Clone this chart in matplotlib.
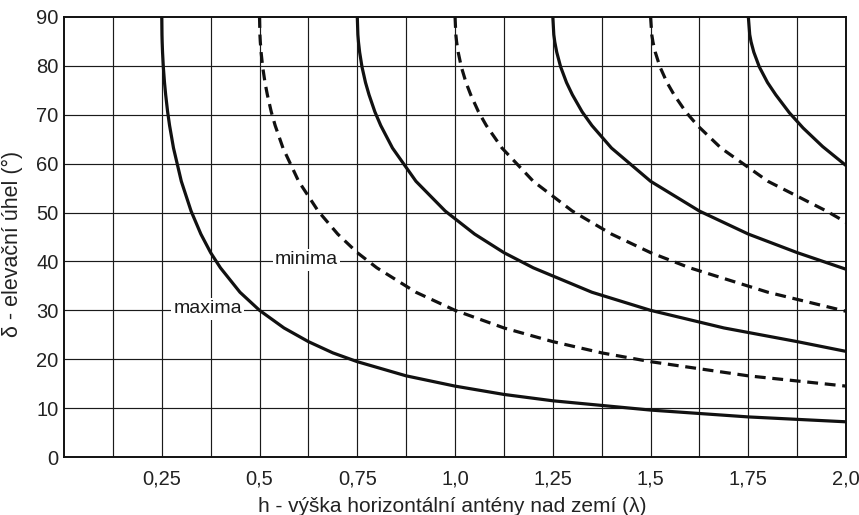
import matplotlib
matplotlib.use("Agg")
import matplotlib.pyplot as plt
import numpy as np

plt.rcParams['font.family'] = ['Liberation Sans', 'DejaVu Sans']

# Curves: h (wavelengths) vs elevation angle (deg)
max1_h = [0.25, 0.2505, 0.251, 0.252, 0.254, 0.257, 0.26, 0.265, 0.27, 0.28, 0.30, 0.325, 0.35, 0.375, 0.40, 0.45, 0.50,
          0.5625, 0.625, 0.6875, 0.75, 0.875, 1.0, 1.125, 1.25, 1.5, 1.75, 2.0]
max1_d = [90, 86.4, 84.9, 82.8, 79.8, 76.6, 74.1, 70.6, 67.8, 63.2, 56.4, 50.3, 45.6, 41.8, 38.7, 33.7, 30.0,
          26.4, 23.6, 21.3, 19.5, 16.6, 14.5, 12.8, 11.5, 9.6, 8.2, 7.2]

min1_h = [0.5, 0.501, 0.502, 0.504, 0.508, 0.514, 0.52, 0.53, 0.54, 0.56, 0.60, 0.65, 0.70, 0.75, 0.80, 0.90, 1.0,
          1.125, 1.25, 1.375, 1.5, 1.75, 2.0]
min1_d = [90, 86.4, 84.9, 82.8, 79.8, 76.6, 74.1, 70.6, 67.8, 63.2, 56.4, 50.3, 45.6, 41.8, 38.7, 33.7, 30.0,
          26.4, 23.6, 21.3, 19.5, 16.6, 14.5]

max2_h = [0.75, 0.7515, 0.753, 0.756, 0.762, 0.771, 0.78, 0.795, 0.81, 0.84, 0.90, 0.975, 1.05, 1.125, 1.2, 1.35, 1.5,
          1.6875, 1.875, 2.0]
max2_d = [90, 86.4, 84.9, 82.8, 79.8, 76.6, 74.1, 70.6, 67.8, 63.2, 56.4, 50.3, 45.6, 41.8, 38.7, 33.7, 30.0,
          26.4, 23.6, 21.6]

min2_h = [1.0, 1.002, 1.004, 1.008, 1.016, 1.028, 1.04, 1.06, 1.08, 1.12, 1.2, 1.3, 1.4, 1.5, 1.6, 1.8, 2.0]
min2_d = [90, 86.4, 84.9, 82.8, 79.8, 76.6, 74.1, 70.6, 67.8, 63.2, 56.4, 50.3, 45.6, 41.8, 38.7, 33.7, 29.8]

max3_h = [1.25, 1.2525, 1.255, 1.26, 1.27, 1.285, 1.30, 1.325, 1.35, 1.40, 1.50, 1.625, 1.75, 1.875, 2.0]
max3_d = [90, 86.4, 84.9, 82.8, 79.8, 76.6, 74.1, 70.6, 67.8, 63.2, 56.4, 50.3, 45.6, 41.8, 38.4]

min3_h = [1.5, 1.503, 1.506, 1.512, 1.524, 1.542, 1.56, 1.59, 1.62, 1.68, 1.80, 1.95, 2.0]
min3_d = [90, 86.4, 84.9, 82.8, 79.8, 76.6, 74.1, 70.6, 67.8, 63.2, 56.4, 50.3, 48.0]

max4_h = [1.75, 1.7535, 1.757, 1.764, 1.778, 1.799, 1.82, 1.855, 1.89, 1.94, 2.0]
max4_d = [90, 86.4, 84.9, 82.8, 79.8, 76.6, 74.1, 70.4, 67.3, 63.5, 59.6]

x_ticks = [0.25, 0.5, 0.75, 1.0, 1.25, 1.5, 1.75, 2.0]
x_tick_labels = ["0,25", "0,5", "0,75", "1,0", "1,25", "1,5", "1,75", "2,0"]
y_ticks = [0, 10, 20, 30, 40, 50, 60, 70, 80, 90]

fig = plt.figure(figsize=(8.59, 5.15), dpi=100)
ax = fig.add_axes([0.0745, 0.1126, 0.9105, 0.8544])
ax.set_xlim(0, 2.0)
ax.set_ylim(0, 90)

# grid
for gx in np.arange(0.125, 2.0, 0.125):
    ax.axvline(gx, color='#1a1a1a', lw=0.85, zorder=1)
for gy in y_ticks[1:-1]:
    ax.axhline(gy, color='#1a1a1a', lw=0.85, zorder=1)

solid = dict(color='#111111', lw=2.3, solid_capstyle='butt', solid_joinstyle='round', zorder=3)
dashed = dict(color='#111111', lw=2.3, linestyle=(0, (3.4, 2.1)), zorder=3)

for h, d in [(max1_h, max1_d), (max2_h, max2_d), (max3_h, max3_d), (max4_h, max4_d)]:
    ax.plot(h, d, **solid)
for h, d in [(min1_h, min1_d), (min2_h, min2_d), (min3_h, min3_d)]:
    ax.plot(h, d, **dashed)

bbox = dict(facecolor='white', edgecolor='none', pad=1.5)
ax.text(0.368, 30.3, "maxima", fontsize=14, ha='center', va='center', bbox=bbox, zorder=2, color='#1a1a1a')
ax.text(0.62, 40.3, "minima", fontsize=14, ha='center', va='center', bbox=bbox, zorder=2, color='#1a1a1a')

ax.set_xticks(x_ticks)
ax.set_xticklabels(x_tick_labels)
ax.set_yticks(y_ticks)
ax.tick_params(length=0, labelsize=14.5, colors='#222222')
ax.tick_params(axis='x', pad=9)
ax.tick_params(axis='y', pad=4)
for label in ax.get_xticklabels():
    label.set_clip_on(False)

for s in ax.spines.values():
    s.set_color('#111111')
    s.set_linewidth(1.4)

ax.set_xlabel("h - výška horizontální antény nad zemí (λ)", fontsize=15, color='#222222')
ax.xaxis.set_label_coords(0.496, -0.09)
ax.set_ylabel("δ - elevační úhel (°)", fontsize=15.5, color='#222222')
ax.yaxis.set_label_coords(-0.053, 0.485)

fig.savefig("out.png", dpi=100)
